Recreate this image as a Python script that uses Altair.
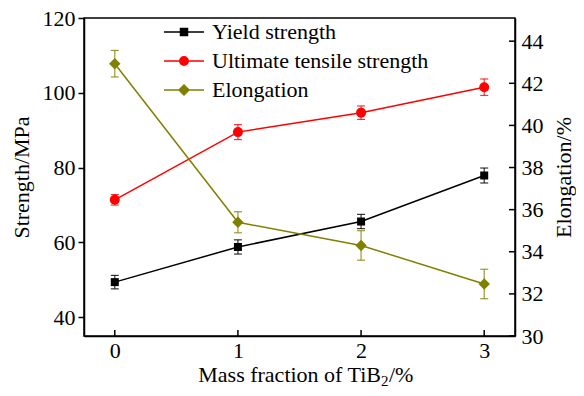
import altair as alt
import pandas as pd

# ---- data ----
mass = [0, 1, 2, 3]
series_names = ["Yield strength", "Ultimate tensile strength", "Elongation"]
yield_strength = [49.4, 58.8, 65.6, 77.9]
yield_err = [1.8, 1.9, 1.9, 2.0]
uts = [71.4, 89.5, 94.7, 101.5]
uts_err = [1.4, 2.0, 1.8, 2.2]
elongation = [42.93, 35.4, 34.3, 32.47]
elong_err = [0.63, 0.5, 0.7, 0.7]

strength_ticks = [40, 60, 80, 100, 120]
elong_ticks = [30, 32, 34, 36, 38, 40, 42, 44]
x_ticks = [0, 1, 2, 3]
x_title_parts = ["Mass fraction of TiB", "2", "/%"]

colors = ["#000000", "#ff0000", "#808000"]
shapes = ["square", "circle", "diamond"]
sizes = [64, 100, 130]
FONT = "Liberation Serif"
W, H = 431, 318


def frame(vals, errs):
    return pd.DataFrame(dict(mass=mass, value=vals,
                             lo=[v - e for v, e in zip(vals, errs)],
                             hi=[v + e for v, e in zip(vals, errs)]))


S_T = "Strength/MPa"
E_T = "Elongation/%"
sscale = alt.Scale(domain=[35, 120], nice=False, zero=False)
escale = alt.Scale(domain=[30, 45.1], nice=False, zero=False)
xscale = alt.Scale(domain=[-0.25, 3.25], nice=False, zero=False)

xenc = alt.X("mass:Q", scale=xscale,
             axis=alt.Axis(values=x_ticks, title=None, tickSize=0,
                           labelPadding=4, format="d"))
s_axis = alt.Axis(values=strength_ticks, orient="left", tickSize=6,
                  labelPadding=3, titlePadding=9)
e_axis = alt.Axis(values=elong_ticks, orient="right", tickSize=0,
                  labelPadding=6, titlePadding=10, titleAngle=270,
                  titleBaseline="top")


def series_layers(df, idx, yscale, ytitle, axis):
    c = colors[idx]
    base = alt.Chart(df)
    err = base.mark_errorbar(ticks={"size": 8, "color": c}, color=c,
                             thickness=1.2, opacity=0.8).encode(
        x=alt.X("mass:Q", scale=xscale),
        y=alt.Y("lo:Q", scale=yscale, title=ytitle), y2="hi:Q")
    line = base.mark_line(color=c, strokeWidth=1.5).encode(
        x=xenc, y=alt.Y("value:Q", scale=yscale, title=ytitle, axis=axis))
    pts = base.mark_point(shape=shapes[idx], filled=True, size=sizes[idx],
                          color=c, opacity=1).encode(
        x=alt.X("mass:Q", scale=xscale),
        y=alt.Y("value:Q", scale=yscale, title=ytitle))
    return [err, line, pts]


ys_df = frame(yield_strength, yield_err)
uts_df = frame(uts, uts_err)
el_df = frame(elongation, elong_err)

xtick_rules = alt.Chart(pd.DataFrame({"t": x_ticks})).mark_rule(
    color="black", strokeWidth=1.5).encode(
    x=alt.X("t:Q", scale=xscale), y=alt.value(H), y2=alt.value(H - 6))

# x-axis title with a real subscript
title_df = pd.DataFrame({"txt": x_title_parts})
t_main = alt.Chart(title_df).transform_filter(alt.datum.txt == x_title_parts[0]).mark_text(
    font=FONT, fontSize=22, align="right", baseline="alphabetic", color="black").encode(
    text="txt:N", x=alt.value(297), y=alt.value(H + 46))
t_sub = alt.Chart(title_df).transform_filter(alt.datum.txt == x_title_parts[1]).mark_text(
    font=FONT, fontSize=15, align="left", baseline="alphabetic", color="black").encode(
    text="txt:N", x=alt.value(297), y=alt.value(H + 50))
t_tail = alt.Chart(title_df).transform_filter(alt.datum.txt == x_title_parts[2]).mark_text(
    font=FONT, fontSize=22, align="left", baseline="alphabetic", color="black").encode(
    text="txt:N", x=alt.value(305), y=alt.value(H + 46))

strength_layer = alt.layer(
    *series_layers(ys_df, 0, sscale, S_T, s_axis),
    *series_layers(uts_df, 1, sscale, S_T, s_axis),
    xtick_rules, t_main, t_sub, t_tail)

etick_rules = alt.Chart(pd.DataFrame({"t": elong_ticks})).mark_rule(
    color="black", strokeWidth=1.5).encode(
    y=alt.Y("t:Q", scale=escale, title=E_T), x=alt.value(W - 6), x2=alt.value(W))

# legend carrier (no visible marks, legend only)
paths = [
    "M-2,0H2M-0.35,-0.35H0.35V0.35H-0.35Z",
    "M-2,0H2M0.42,0A0.42,0.42,0,1,1,-0.42,0A0.42,0.42,0,1,1,0.42,0Z",
    "M-2,0H2M0,-0.5L0.5,0L0,0.5L-0.5,0Z",
]
leg_df = pd.DataFrame({"series": series_names, "mass": mass[:3], "value": elongation[:3]})
cscale = alt.Scale(domain=series_names, range=colors)
leg = alt.Legend(title=None, orient="none", legendX=89, legendY=3,
                 labelFont=FONT, labelFontSize=22, labelColor="black", labelLimit=500,
                 symbolSize=400, symbolStrokeWidth=1.5, labelOffset=17,
                 rowPadding=7, padding=0, symbolOpacity=1)
carrier = alt.Chart(leg_df).mark_point(filled=True, strokeWidth=1.5, opacity=0).encode(
    x=alt.X("mass:Q", scale=xscale),
    y=alt.Y("value:Q", scale=escale, title=E_T),
    color=alt.Color("series:N", scale=cscale, legend=leg),
    stroke=alt.Stroke("series:N", scale=cscale, legend=leg),
    shape=alt.Shape("series:N", scale=alt.Scale(domain=series_names, range=paths), legend=leg),
)

elong_layer = alt.layer(*series_layers(el_df, 2, escale, E_T, e_axis), etick_rules, carrier)

chart = alt.layer(strength_layer, elong_layer).resolve_scale(y="independent").properties(
    width=W, height=H,
    autosize=alt.AutoSizeParams(type="none"),
    padding={"left": 76, "top": 10, "right": 61, "bottom": 52},
    background="white",
).configure_view(stroke="black", strokeWidth=1.5).configure_axis(
    labelFont=FONT, labelFontSize=22, labelColor="black",
    titleFont=FONT, titleFontSize=22, titleFontWeight="normal", titleColor="black",
    domainColor="black", domainWidth=1.5, tickColor="black", tickWidth=1.5, grid=False,
)

chart.save("out.html", embed_options={"renderer": "svg", "actions": False})
